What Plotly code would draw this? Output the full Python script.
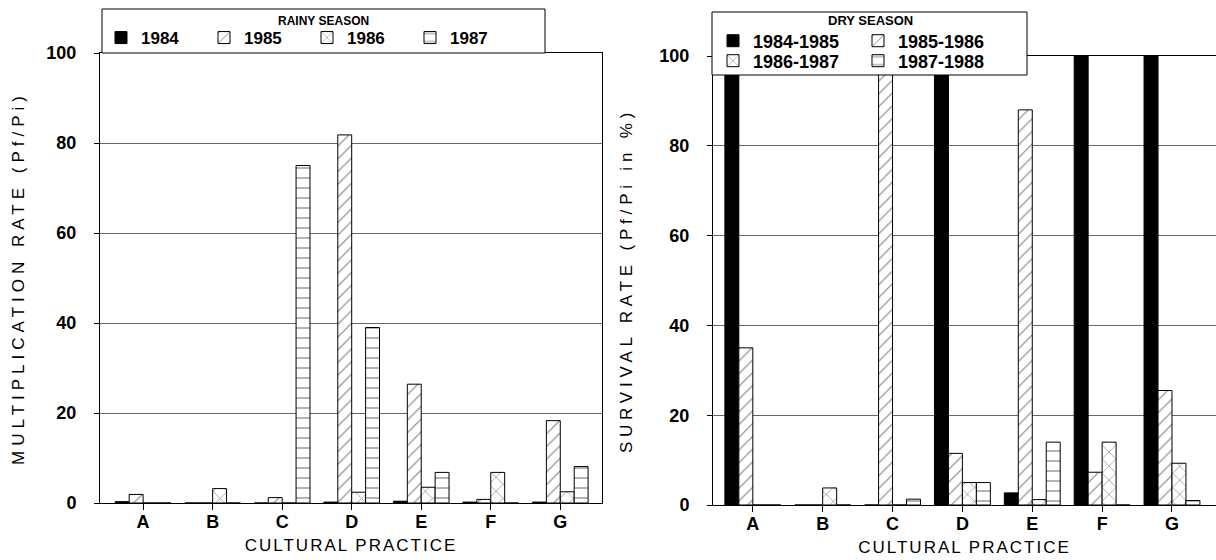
import plotly.graph_objects as go

W, H = 1216, 560

categories = ["A", "B", "C", "D", "E", "F", "G"]

rainy_names = ["1984", "1985", "1986", "1987"]
rainy_1984 = [0.3, 0, 0, 0.2, 0.4, 0.2, 0.2]
rainy_1985 = [1.9, 0, 1.2, 81.8, 26.4, 0.8, 18.3]
rainy_1986 = [0, 3.2, 0, 2.4, 3.5, 6.8, 2.5]
rainy_1987 = [0, 0, 75, 39, 6.8, 0, 8.1]

dry_names = ["1984-1985", "1985-1986", "1986-1987", "1987-1988"]
dry_8485 = [100, 0, 0, 100, 2.7, 100, 100]
dry_8586 = [35, 0, 98, 11.5, 88, 7.3, 25.5]
dry_8687 = [0, 3.8, 0, 5, 1.2, 14, 9.3]
dry_8788 = [0, 0, 1.3, 5, 14, 0, 1]

y_ticks = [0, 20, 40, 60, 80, 100]

FONT = "Liberation Sans, Arial, sans-serif"

def px_x(p):
    return p / W

def px_y(p):
    return 1 - p / H

def spaced(text, s):
    return '<span style="letter-spacing:%gpx">%s</span>' % (s, text)

styles = [
    dict(color="black", pattern=dict(shape="")),
    dict(color="white", pattern=dict(shape="/", fgcolor="black", bgcolor="white", size=9, solidity=0.12)),
    dict(color="white", pattern=dict(shape="x", fgcolor="black", bgcolor="white", size=10, solidity=0.12)),
    dict(color="white", pattern=dict(shape="-", fgcolor="black", bgcolor="white", size=10, solidity=0.12)),
]

fig = go.Figure()

rainy_series = [rainy_1984, rainy_1985, rainy_1986, rainy_1987]
for name, vals, st in zip(rainy_names, rainy_series, styles):
    fig.add_trace(go.Bar(
        x=categories, y=vals, name=name, xaxis="x", yaxis="y",
        marker=dict(color=st["color"], pattern=st["pattern"], line=dict(color="black", width=1)),
        legend="legend",
    ))

dry_series = [dry_8485, dry_8586, dry_8687, dry_8788]
dry_legends = ["legend2", "legend2", "legend3", "legend3"]
for name, vals, st, lg in zip(dry_names, dry_series, styles, dry_legends):
    fig.add_trace(go.Bar(
        x=categories, y=vals, name=name, xaxis="x2", yaxis="y2",
        marker=dict(color=st["color"], pattern=st["pattern"], line=dict(color="black", width=1)),
        legend=lg,
    ))

axis_common = dict(
    showline=True, linecolor="black", linewidth=1, mirror=True,
    ticks="outside", tickcolor="black",
    tickfont=dict(family=FONT, size=18, color="black", weight="bold"),
    zeroline=False, automargin=False,
)

TITLE_FONT = dict(family=FONT, size=17, color="black")

legend_common = dict(
    orientation="h", xanchor="left", yanchor="middle",
    bgcolor="rgba(0,0,0,0)", borderwidth=0, traceorder="normal",
    entrywidthmode="pixels",
)

fig.update_layout(
    width=W, height=H,
    margin=dict(l=0, r=0, t=0, b=0, autoexpand=False),
    paper_bgcolor="white", plot_bgcolor="white",
    barmode="group", bargap=0.2, bargroupgap=0,
    font=dict(family=FONT, color="black"),
    xaxis=dict(
        domain=[px_x(100), px_x(602)], anchor="y",
        type="category", categoryorder="array", categoryarray=categories,
        range=[-0.62, 6.6], ticklen=6, ticklabelstandoff=-4, showgrid=False,
        title=dict(text=spaced("CULTURAL PRACTICE", 2), font=TITLE_FONT, standoff=8),
        **axis_common,
    ),
    yaxis=dict(
        domain=[px_y(503), px_y(53)], anchor="x",
        range=[0, 100], tickvals=y_ticks, ticklen=5, ticklabelstandoff=14,
        showgrid=True, gridcolor="#666666", gridwidth=1,
        title=dict(text=spaced("MULTIPLICATION RATE (Pf/Pi)", 5), font=TITLE_FONT, standoff=17),
        **axis_common,
    ),
    xaxis2=dict(
        domain=[px_x(713), 1.0], anchor="y2",
        type="category", categoryorder="array", categoryarray=categories,
        range=[-0.57, 6.63], ticklen=6, ticklabelstandoff=-4, showgrid=False,
        title=dict(text=spaced("CULTURAL PRACTICE", 2), font=TITLE_FONT, standoff=8),
        **axis_common,
    ),
    yaxis2=dict(
        domain=[px_y(505), px_y(56)], anchor="x2",
        range=[0, 100], tickvals=y_ticks, ticklen=5, ticklabelstandoff=14,
        showgrid=True, gridcolor="#666666", gridwidth=1,
        title=dict(text=spaced("SURVIVAL RATE (Pf/Pi in %)", 4.8), font=TITLE_FONT, standoff=22),
        **axis_common,
    ),
    legend=dict(
        x=px_x(101), y=px_y(38),
        font=dict(family=FONT, size=17, color="black", weight="bold"),
        entrywidth=58, **legend_common,
    ),
    legend2=dict(
        x=px_x(713), y=px_y(41),
        font=dict(family=FONT, size=18, color="black", weight="bold"),
        entrywidth=100, **legend_common,
    ),
    legend3=dict(
        x=px_x(713), y=px_y(61),
        font=dict(family=FONT, size=18, color="black", weight="bold"),
        entrywidth=100, **legend_common,
    ),
    shapes=[
        dict(type="rect", xref="paper", yref="paper", layer="above",
             x0=px_x(102), x1=px_x(545), y0=px_y(53), y1=px_y(9),
             line=dict(color="black", width=1), fillcolor="white"),
        dict(type="rect", xref="paper", yref="paper", layer="above",
             x0=px_x(712), x1=px_x(1027), y0=px_y(75), y1=px_y(12),
             line=dict(color="black", width=1), fillcolor="white"),
    ],
    annotations=[
        dict(text="RAINY SEASON", xref="paper", yref="paper", x=px_x(323), y=px_y(21),
             xanchor="center", yanchor="middle", showarrow=False,
             font=dict(family=FONT, size=12, color="black", weight="bold")),
        dict(text="DRY SEASON", xref="paper", yref="paper", x=px_x(870), y=px_y(21),
             xanchor="center", yanchor="middle", showarrow=False,
             font=dict(family=FONT, size=13, color="black", weight="bold")),
    ],
)

fig.write_html("out.html", config={"displayModeBar": False},
               post_script="document.body.style.margin='0px';")
